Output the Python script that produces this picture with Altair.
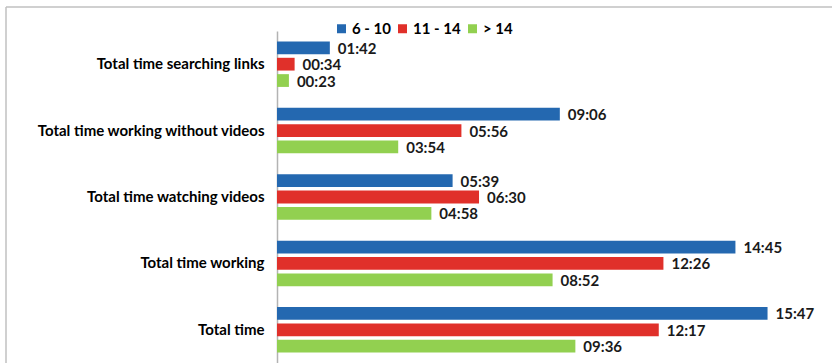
import altair as alt
import pandas as pd

categories = [
    "Total time searching links",
    "Total time working without videos",
    "Total time watching videos",
    "Total time working",
    "Total time",
]
groups = ["6 - 10", "11 - 14", "> 14"]
times_6_10 = ["01:42", "09:06", "05:39", "14:45", "15:47"]
times_11_14 = ["00:34", "05:56", "06:30", "12:26", "12:17"]
times_gt14 = ["00:23", "03:54", "04:58", "08:52", "09:36"]
colors = ["#2468B0", "#E0302A", "#92D050"]


def to_sec(s):
    m, sec = s.split(":")
    return int(m) * 60 + int(sec)


rows = []
for g, series in zip(groups, [times_6_10, times_11_14, times_gt14]):
    for c, t in zip(categories, series):
        rows.append({"category": c, "group": g, "label": t, "seconds": to_sec(t)})
df = pd.DataFrame(rows)

FONT = "Lato"
FS = 15

y = alt.Y(
    "category:N",
    sort=categories,
    scale=alt.Scale(paddingInner=0.315, paddingOuter=0.157),
    axis=alt.Axis(
        title=None, ticks=False, labelPadding=13, labelFont=FONT,
        labelFontSize=FS, labelFontWeight="bold", labelColor="#000000",
        domainColor="#b3b3b3", domainWidth=1.5, labelLimit=300, grid=False,
    ),
)
yoff = alt.YOffset("group:N", sort=groups,
                   scale=alt.Scale(paddingInner=0.22, paddingOuter=0))
x = alt.X("seconds:Q", scale=alt.Scale(domain=[0, 1000], nice=False, zero=True),
          axis=None)

bars = alt.Chart(df).mark_bar().encode(
    x=x, y=y, yOffset=yoff,
    color=alt.Color(
        "group:N", sort=groups,
        scale=alt.Scale(domain=groups, range=colors),
        legend=alt.Legend(
            title=None, orient="none", legendX=57, legendY=-10,
            direction="horizontal", symbolType="square", symbolSize=81,
            symbolStrokeWidth=0, symbolOpacity=1, labelFont=FONT, labelFontSize=FS,
            labelFontWeight="bold", labelColor="#000000",
            columnPadding=4, labelOffset=3, padding=0,
        ),
    ),
)

text = alt.Chart(df).mark_text(
    align="left", baseline="middle", dx=8, dy=1, font=FONT, fontSize=FS,
    fontWeight="bold", color="#1a1a1a",
).encode(x=x, y=y, yOffset=yoff, text="label:N")

frame_df = pd.DataFrame({"z": [0]})
frame_left = alt.Chart(frame_df).mark_rule(color="#c0c0c0", strokeWidth=1.5).encode(
    x=alt.value(-271), y=alt.value(-24), y2=alt.value(340)
)
frame_top = alt.Chart(frame_df).mark_rule(color="#c0c0c0", strokeWidth=1.5).encode(
    x=alt.value(-271), x2=alt.value(560), y=alt.value(-24)
)

chart = alt.layer(frame_left, frame_top, bars, text).properties(
    width=518, height=332,
    autosize=alt.AutoSizeParams(type="none"),
    padding={"left": 277, "top": 31, "right": 37, "bottom": 0},
).configure_view(strokeWidth=0)

chart.save("out.html", embed_options={"renderer": "svg", "actions": False})
